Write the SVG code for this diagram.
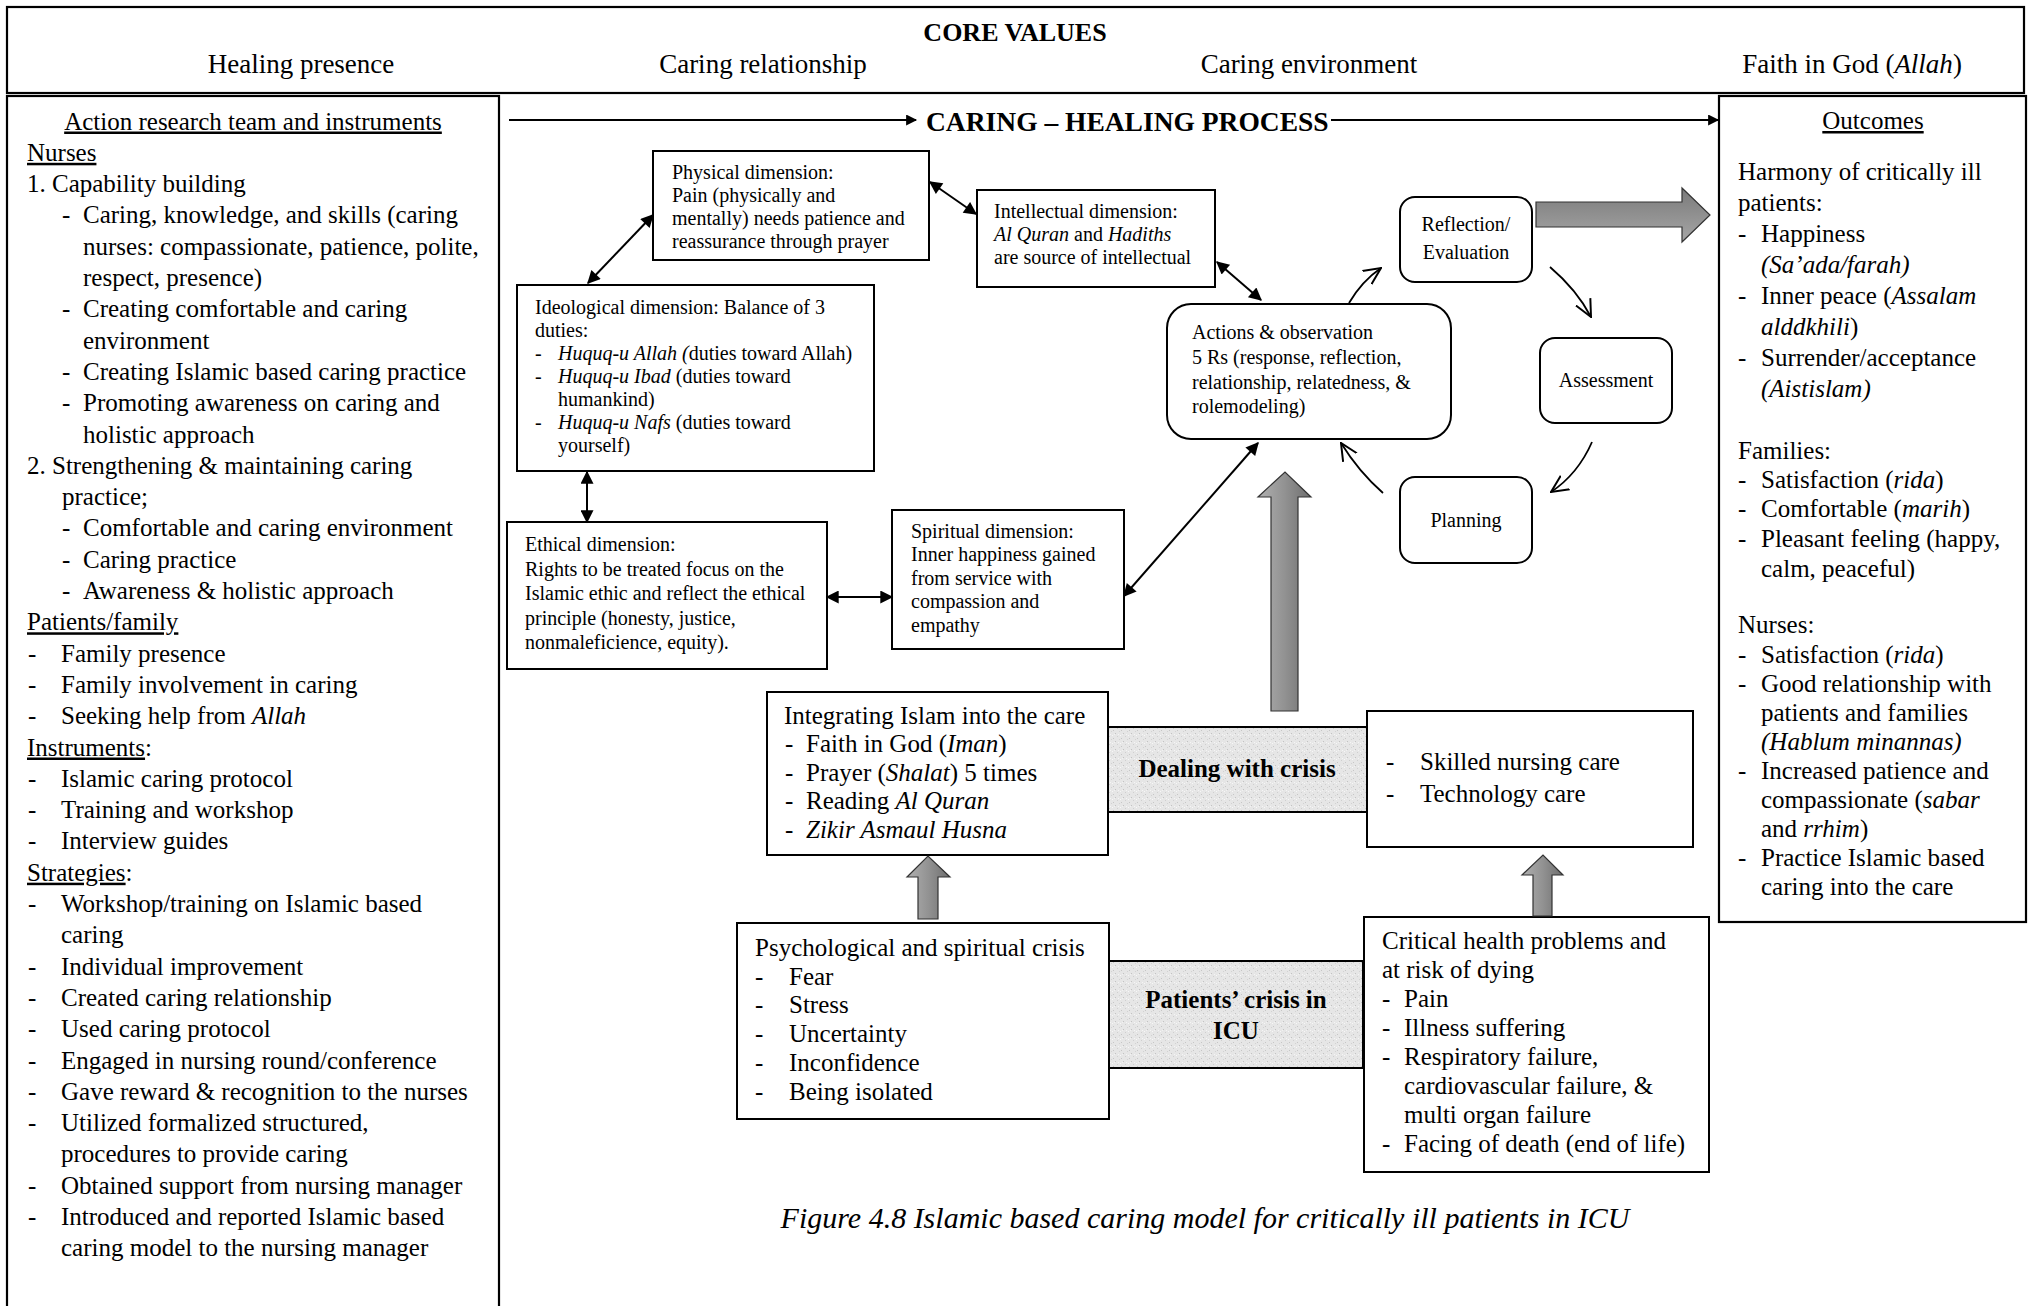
<svg xmlns="http://www.w3.org/2000/svg" width="2028" height="1306" viewBox="0 0 2028 1306">
<style>
text{font-family:"Liberation Serif","Times New Roman",serif;fill:#000}
.h27{font-size:27px}
.t25{font-size:25px}
.t20{font-size:20px}
.b{font-weight:bold}
.i{font-style:italic}
.u{text-decoration:underline}
.mid{text-anchor:middle}
.box{fill:#fff;stroke:#000;stroke-width:2}
.frame{fill:none;stroke:#000;stroke-width:2.2}
.con{fill:none;stroke:#000;stroke-width:2}
.cyc{fill:none;stroke:#000;stroke-width:1.8}
.gray{stroke:#333;stroke-width:1.2}
</style>
<defs>
<marker id="ah" viewBox="0 0 10 10" refX="9" refY="5" markerWidth="15" markerHeight="13" markerUnits="userSpaceOnUse" orient="auto-start-reverse"><path d="M0,0 L10,5 L0,10 z" fill="#000"/></marker>
<marker id="ahs" viewBox="0 0 10 10" refX="9" refY="5" markerWidth="14" markerHeight="11" markerUnits="userSpaceOnUse" orient="auto"><path d="M0,0 L10,5 L0,10 z" fill="#000"/></marker>
<marker id="open" viewBox="0 0 10 10" refX="9.5" refY="5" markerWidth="18" markerHeight="20" markerUnits="userSpaceOnUse" orient="auto"><path d="M0,0.5 L9.5,5 L0,9.5" fill="none" stroke="#000" stroke-width="1.1"/></marker>
<linearGradient id="gh" x1="0" y1="0" x2="0" y2="1"><stop offset="0" stop-color="#7a7a7a"/><stop offset="1" stop-color="#a6a6a6"/></linearGradient>
<linearGradient id="gv" x1="0" y1="0" x2="1" y2="0"><stop offset="0" stop-color="#b0b0b0"/><stop offset="0.5" stop-color="#929292"/><stop offset="1" stop-color="#6e6e6e"/></linearGradient>
<pattern id="grain" width="8" height="8" patternUnits="userSpaceOnUse"><rect width="8" height="8" fill="#e6e6e6"/><rect x="1" y="2" width="1" height="1" fill="#c6c6c6"/><rect x="5" y="0" width="1" height="1" fill="#cfcfcf"/><rect x="3" y="5" width="1" height="1" fill="#c2c2c2"/><rect x="6" y="6" width="1" height="1" fill="#f5f5f5"/><rect x="0" y="7" width="1" height="1" fill="#f7f7f7"/><rect x="7" y="3" width="1" height="1" fill="#d2d2d2"/><rect x="2" y="6" width="1" height="1" fill="#f2f2f2"/></pattern>
</defs>

<g id="core-values">
<rect class="frame" x="7" y="7" width="2017" height="86"/>
<text class="b mid" x="1015" y="41" style="font-size:26px">CORE VALUES</text>
<text class="h27 mid" x="301" y="73">Healing presence</text>
<text class="h27 mid" x="763" y="73">Caring relationship</text>
<text class="h27 mid" x="1309" y="73">Caring environment</text>
<text class="h27 mid" x="1852" y="73">Faith in God (<tspan class="i">Allah</tspan>)</text>
</g>

<g id="action-research-team">
<rect class="frame" x="7" y="96" width="492" height="1220"/>
<g class="t25">
<text class="mid" x="253" y="129.5"><tspan class="u">Action research team and instruments</tspan></text>
<text x="27" y="160.8"><tspan class="u">Nurses</tspan></text>
<text x="27" y="192.1">1. Capability building</text>
<text x="62" y="223.4">-</text><text x="83" y="223.4">Caring, knowledge, and skills (caring</text>
<text x="83" y="254.7">nurses: compassionate, patience, polite,</text>
<text x="83" y="286">respect, presence)</text>
<text x="62" y="317.3">-</text><text x="83" y="317.3">Creating comfortable and caring</text>
<text x="83" y="348.6">environment</text>
<text x="62" y="379.9">-</text><text x="83" y="379.9">Creating Islamic based caring practice</text>
<text x="62" y="411.2">-</text><text x="83" y="411.2">Promoting awareness on caring and</text>
<text x="83" y="442.5">holistic approach</text>
<text x="27" y="473.8">2. Strengthening &amp; maintaining caring</text>
<text x="62" y="505.1">practice;</text>
<text x="62" y="536.4">-</text><text x="83" y="536.4">Comfortable and caring environment</text>
<text x="62" y="567.7">-</text><text x="83" y="567.7">Caring practice</text>
<text x="62" y="599">-</text><text x="83" y="599">Awareness &amp; holistic approach</text>
<text x="27" y="630.3"><tspan class="u">Patients/family</tspan></text>
<text x="28" y="661.6">-</text><text x="61" y="661.6">Family presence</text>
<text x="28" y="692.9">-</text><text x="61" y="692.9">Family involvement in caring</text>
<text x="28" y="724.2">-</text><text x="61" y="724.2">Seeking help from <tspan class="i">Allah</tspan></text>
<text x="27" y="755.5"><tspan class="u">Instruments</tspan>:</text>
<text x="28" y="786.8">-</text><text x="61" y="786.8">Islamic caring protocol</text>
<text x="28" y="818.1">-</text><text x="61" y="818.1">Training and workshop</text>
<text x="28" y="849.4">-</text><text x="61" y="849.4">Interview guides</text>
<text x="27" y="880.7"><tspan class="u">Strategies</tspan>:</text>
<text x="28" y="912">-</text><text x="61" y="912">Workshop/training on Islamic based</text>
<text x="61" y="943.3">caring</text>
<text x="28" y="974.6">-</text><text x="61" y="974.6">Individual improvement</text>
<text x="28" y="1005.9">-</text><text x="61" y="1005.9">Created caring relationship</text>
<text x="28" y="1037.2">-</text><text x="61" y="1037.2">Used caring protocol</text>
<text x="28" y="1068.5">-</text><text x="61" y="1068.5">Engaged in nursing round/conference</text>
<text x="28" y="1099.8">-</text><text x="61" y="1099.8">Gave reward &amp; recognition to the nurses</text>
<text x="28" y="1131.1">-</text><text x="61" y="1131.1">Utilized formalized structured,</text>
<text x="61" y="1162.4">procedures to provide caring</text>
<text x="28" y="1193.7">-</text><text x="61" y="1193.7">Obtained support from nursing manager</text>
<text x="28" y="1225">-</text><text x="61" y="1225">Introduced and reported Islamic based</text>
<text x="61" y="1256.3">caring model to the nursing manager</text>
</g>
</g>

<g id="process-title">
<text class="b" x="926" y="131" style="font-size:27.5px">CARING – HEALING PROCESS</text>
</g>

<g id="outcomes">
<rect class="frame" x="1719" y="96" width="307" height="826"/>
<g class="t25">
<text class="mid" x="1873" y="129"><tspan class="u">Outcomes</tspan></text>
<text x="1738" y="180">Harmony of critically ill</text>
<text x="1738" y="211">patients:</text>
<text x="1738" y="242">-</text><text x="1761" y="242">Happiness</text>
<text x="1761" y="273" class="i">(Sa’ada/farah)</text>
<text x="1738" y="304">-</text><text x="1761" y="304">Inner peace (<tspan class="i">Assalam</tspan></text>
<text x="1761" y="335"><tspan class="i">alddkhili</tspan>)</text>
<text x="1738" y="366">-</text><text x="1761" y="366">Surrender/acceptance</text>
<text x="1761" y="397" class="i">(Aistislam)</text>
<text x="1738" y="459">Families:</text>
<text x="1738" y="488">-</text><text x="1761" y="488">Satisfaction (<tspan class="i">rida</tspan>)</text>
<text x="1738" y="517">-</text><text x="1761" y="517">Comfortable (<tspan class="i">marih</tspan>)</text>
<text x="1738" y="547">-</text><text x="1761" y="547">Pleasant feeling (happy,</text>
<text x="1761" y="577">calm, peaceful)</text>
<text x="1738" y="633">Nurses:</text>
<text x="1738" y="663">-</text><text x="1761" y="663">Satisfaction (<tspan class="i">rida</tspan>)</text>
<text x="1738" y="692">-</text><text x="1761" y="692">Good relationship with</text>
<text x="1761" y="721">patients and families</text>
<text x="1761" y="750" class="i">(Hablum minannas)</text>
<text x="1738" y="779">-</text><text x="1761" y="779">Increased patience and</text>
<text x="1761" y="808">compassionate (<tspan class="i">sabar</tspan></text>
<text x="1761" y="837">and <tspan class="i">rrhim</tspan>)</text>
<text x="1738" y="866">-</text><text x="1761" y="866">Practice Islamic based</text>
<text x="1761" y="895">caring into the care</text>
</g>
</g>

<g id="physical-dimension">
<rect class="box" x="653" y="151" width="276" height="109"/>
<g class="t20">
<text x="672" y="178.5">Physical dimension:</text>
<text x="672" y="201.5">Pain (physically and</text>
<text x="672" y="224.5">mentally) needs patience and</text>
<text x="672" y="247.5">reassurance through prayer</text>
</g>
</g>

<g id="intellectual-dimension">
<rect class="box" x="977" y="190" width="238" height="97"/>
<g class="t20">
<text x="994" y="218">Intellectual dimension:</text>
<text x="994" y="241"><tspan class="i">Al Quran</tspan> and <tspan class="i">Hadiths</tspan></text>
<text x="994" y="264">are source of intellectual</text>
</g>
</g>

<g id="ideological-dimension">
<rect class="box" x="517" y="285" width="357" height="186"/>
<g class="t20">
<text x="535" y="314">Ideological dimension: Balance of 3</text>
<text x="535" y="337">duties:</text>
<text x="535" y="360">-</text><text x="558" y="360"><tspan class="i">Huquq-u Allah (</tspan>duties toward Allah)</text>
<text x="535" y="383">-</text><text x="558" y="383"><tspan class="i">Huquq-u Ibad</tspan> (duties toward</text>
<text x="558" y="406">humankind)</text>
<text x="535" y="429">-</text><text x="558" y="429"><tspan class="i">Huquq-u Nafs</tspan> (duties toward</text>
<text x="558" y="452">yourself)</text>
</g>
</g>

<g id="ethical-dimension">
<rect class="box" x="507" y="522" width="320" height="147"/>
<g class="t20">
<text x="525" y="551">Ethical dimension:</text>
<text x="525" y="576">Rights to be treated focus on the</text>
<text x="525" y="600">Islamic ethic and reflect the ethical</text>
<text x="525" y="625">principle (honesty, justice,</text>
<text x="525" y="649">nonmaleficience, equity).</text>
</g>
</g>

<g id="spiritual-dimension">
<rect class="box" x="892" y="510" width="232" height="139"/>
<g class="t20">
<text x="911" y="538">Spiritual dimension:</text>
<text x="911" y="561">Inner happiness gained</text>
<text x="911" y="585">from service with</text>
<text x="911" y="608">compassion and</text>
<text x="911" y="632">empathy</text>
</g>
</g>

<g id="actions-observation">
<rect class="box" x="1167" y="304" width="284" height="135" rx="24" ry="24"/>
<g class="t20">
<text x="1192" y="339">Actions &amp; observation</text>
<text x="1192" y="364">5 Rs (response, reflection,</text>
<text x="1192" y="389">relationship, relatedness, &amp;</text>
<text x="1192" y="413">rolemodeling)</text>
</g>
</g>

<g id="reflection-evaluation">
<rect class="box" x="1400" y="197" width="132" height="85" rx="15" ry="15"/>
<text class="t20 mid" x="1466" y="231">Reflection/</text>
<text class="t20 mid" x="1466" y="259">Evaluation</text>
</g>

<g id="assessment">
<rect class="box" x="1540" y="338" width="132" height="85" rx="15" ry="15"/>
<text class="t20 mid" x="1606" y="387">Assessment</text>
</g>

<g id="planning">
<rect class="box" x="1400" y="477" width="132" height="86" rx="15" ry="15"/>
<text class="t20 mid" x="1466" y="527">Planning</text>
</g>

<g id="integrating-islam">
<rect class="box" x="767" y="692" width="341" height="163"/>
<g class="t25">
<text x="784" y="724">Integrating Islam into the care</text>
<text x="785" y="752">-</text><text x="806" y="752">Faith in God (<tspan class="i">Iman</tspan>)</text>
<text x="785" y="781">-</text><text x="806" y="781">Prayer (<tspan class="i">Shalat</tspan>) 5 times</text>
<text x="785" y="809">-</text><text x="806" y="809">Reading <tspan class="i">Al Quran</tspan></text>
<text x="785" y="838">-</text><text x="806" y="838" class="i">Zikir Asmaul Husna</text>
</g>
</g>

<g id="dealing-with-crisis">
<rect x="1108" y="727" width="259" height="85" fill="url(#grain)" stroke="#000" stroke-width="2"/>
<text class="t25 b mid" x="1237" y="777">Dealing with crisis</text>
</g>

<g id="skilled-nursing-care">
<rect class="box" x="1367" y="711" width="326" height="136"/>
<g class="t25">
<text x="1386" y="770">-</text><text x="1420" y="770">Skilled nursing care</text>
<text x="1386" y="802">-</text><text x="1420" y="802">Technology care</text>
</g>
</g>

<g id="psychological-spiritual-crisis">
<rect class="box" x="737" y="923" width="372" height="196"/>
<g class="t25">
<text x="755" y="956">Psychological and spiritual crisis</text>
<text x="755" y="985">-</text><text x="789" y="985">Fear</text>
<text x="755" y="1013">-</text><text x="789" y="1013">Stress</text>
<text x="755" y="1042">-</text><text x="789" y="1042">Uncertainty</text>
<text x="755" y="1071">-</text><text x="789" y="1071">Inconfidence</text>
<text x="755" y="1100">-</text><text x="789" y="1100">Being isolated</text>
</g>
</g>

<g id="patients-crisis-icu">
<rect x="1109" y="961" width="254" height="107" fill="url(#grain)" stroke="#000" stroke-width="2"/>
<text class="t25 b mid" x="1236" y="1008">Patients’ crisis in</text>
<text class="t25 b mid" x="1236" y="1039">ICU</text>
</g>

<g id="critical-health-problems">
<rect class="box" x="1364" y="917" width="345" height="255"/>
<g class="t25">
<text x="1382" y="949">Critical health problems and</text>
<text x="1382" y="978">at risk of dying</text>
<text x="1382" y="1007">-</text><text x="1404" y="1007">Pain</text>
<text x="1382" y="1036">-</text><text x="1404" y="1036">Illness suffering</text>
<text x="1382" y="1065">-</text><text x="1404" y="1065">Respiratory failure,</text>
<text x="1404" y="1094">cardiovascular failure, &amp;</text>
<text x="1404" y="1123">multi organ failure</text>
<text x="1382" y="1152">-</text><text x="1404" y="1152">Facing of death (end of life)</text>
</g>
</g>

<g id="connectors">
<line class="con" x1="509" y1="120" x2="916" y2="120" marker-end="url(#ahs)"/>
<line class="con" x1="1331" y1="120" x2="1718" y2="120" marker-end="url(#ahs)"/>
<line class="con" x1="588" y1="283" x2="653" y2="215" marker-start="url(#ah)" marker-end="url(#ah)"/>
<line class="con" x1="930" y1="182" x2="976" y2="214" marker-start="url(#ah)" marker-end="url(#ah)"/>
<line class="con" x1="587" y1="472" x2="587" y2="522" marker-start="url(#ah)" marker-end="url(#ah)"/>
<line class="con" x1="827" y1="597" x2="892" y2="597" marker-start="url(#ah)" marker-end="url(#ah)"/>
<line class="con" x1="1217" y1="262" x2="1261" y2="300" marker-start="url(#ah)" marker-end="url(#ah)"/>
<line class="con" x1="1124" y1="596" x2="1258" y2="443" marker-start="url(#ah)" marker-end="url(#ah)"/>
<path class="cyc" d="M1349,303 Q1362,281 1381,268" marker-end="url(#open)"/>
<path class="cyc" d="M1550,267 Q1577,290 1591,317" marker-end="url(#open)"/>
<path class="cyc" d="M1592,442 Q1578,474 1551,492" marker-end="url(#open)"/>
<path class="cyc" d="M1383,493 Q1359,472 1341,443" marker-end="url(#open)"/>
<polygon class="gray" fill="url(#gh)" points="1536,202 1682,202 1682,188 1710,215 1682,242 1682,227 1536,227"/>
<polygon class="gray" fill="url(#gv)" points="1271,711 1271,497 1258,497 1285,472 1311,497 1298,497 1298,711"/>
<polygon class="gray" fill="url(#gv)" points="918,919 918,877 907,877 928,856 950,877 938,877 938,919"/>
<polygon class="gray" fill="url(#gv)" points="1533,916 1533,875 1522,875 1543,855 1563,875 1552,875 1552,916"/>
</g>

<g id="caption">
<text class="i mid" x="1205" y="1228" style="font-size:30px">Figure 4.8 Islamic based caring model for critically ill patients in ICU</text>
</g>
</svg>
